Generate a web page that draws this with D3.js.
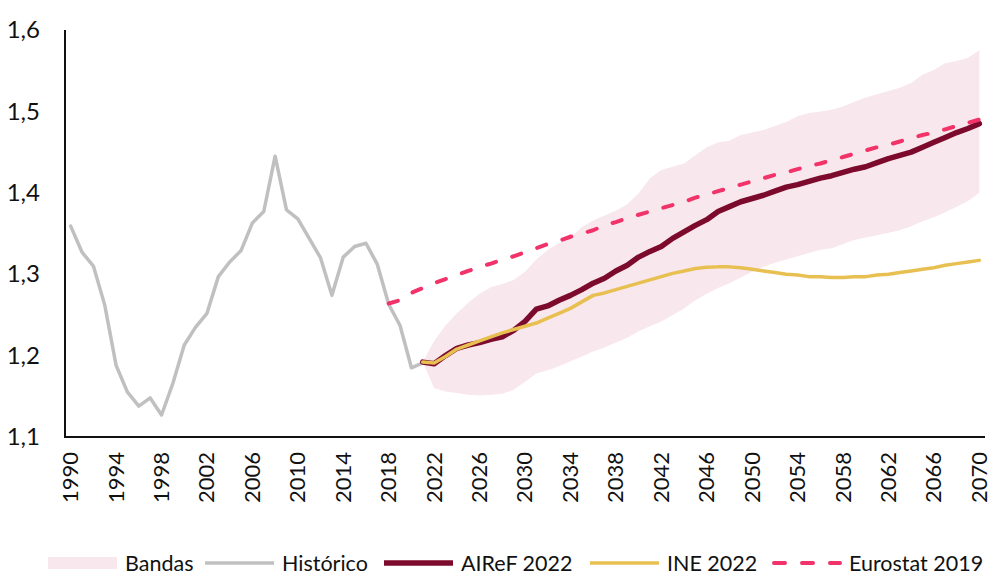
<!DOCTYPE html>
<html>
<head>
<meta charset="utf-8">
<script src="https://cdn.jsdelivr.net/npm/d3@7"></script>
<style>
	html,body{margin:0;padding:0;background:#fff;}
	svg{display:block;font-family:Lato,"Open Sans",sans-serif;}
</style>
</head>
<body>
<div id="container"></div>
<script>
//years 1990-2070, labels every 4 years
var years = d3.range(1990,2071);
var tickYears = d3.range(1990,2071,4);
var yTicks = [1.1,1.2,1.3,1.4,1.5,1.6];

//historico 1990-2021
var histYears = d3.range(1990,2022);
var historico = [1.359,1.327,1.310,1.262,1.188,1.155,1.138,1.148,1.127,1.166,
	1.213,1.235,1.252,1.297,1.315,1.329,1.363,1.377,1.445,1.379,
	1.368,1.344,1.320,1.274,1.321,1.334,1.338,1.312,1.263,1.237,
	1.185,1.191];

//projections 2021-2070
var projYears = d3.range(2021,2071);
var airef = [1.192,1.190,1.200,1.209,1.213,1.216,1.220,1.223,1.231,1.242,
	1.257,1.261,1.268,1.274,1.281,1.289,1.295,1.304,1.311,1.321,
	1.328,1.334,1.344,1.352,1.360,1.367,1.377,1.383,1.389,1.393,
	1.397,1.402,1.407,1.410,1.414,1.418,1.421,1.425,1.429,1.432,
	1.437,1.442,1.446,1.450,1.456,1.462,1.468,1.474,1.479,1.485];
var ine = [1.192,1.191,1.199,1.208,1.213,1.218,1.223,1.228,1.232,1.236,
	1.240,1.246,1.252,1.258,1.266,1.274,1.277,1.281,1.285,1.289,
	1.293,1.297,1.301,1.304,1.307,1.3085,1.309,1.309,1.308,1.306,
	1.304,1.302,1.300,1.299,1.297,1.297,1.296,1.296,1.297,1.297,
	1.299,1.300,1.302,1.304,1.306,1.308,1.311,1.313,1.315,1.317];
var bandUpper = [1.192,1.218,1.237,1.252,1.265,1.276,1.284,1.288,1.293,1.303,
	1.318,1.330,1.338,1.345,1.358,1.366,1.372,1.378,1.386,1.399,
	1.418,1.428,1.432,1.436,1.446,1.456,1.462,1.464,1.471,1.474,
	1.477,1.482,1.487,1.494,1.498,1.500,1.502,1.506,1.512,1.517,
	1.521,1.525,1.529,1.535,1.545,1.551,1.559,1.562,1.566,1.575];
var bandLower = [1.192,1.160,1.156,1.154,1.152,1.151,1.152,1.153,1.158,1.168,
	1.178,1.182,1.187,1.193,1.199,1.205,1.210,1.216,1.222,1.230,
	1.236,1.242,1.250,1.258,1.268,1.276,1.283,1.289,1.296,1.303,
	1.309,1.314,1.318,1.322,1.326,1.330,1.332,1.337,1.342,1.345,
	1.348,1.351,1.354,1.359,1.365,1.370,1.376,1.383,1.390,1.400];

//eurostat 2018-2070
var euroYears = d3.range(2018,2071);
var eurostat = [1.264,1.268,1.277,1.283,1.289,1.294,1.299,1.304,1.309,1.313,
	1.318,1.322,1.327,1.332,1.337,1.341,1.346,1.350,1.354,1.360,
	1.364,1.369,1.373,1.377,1.381,1.385,1.389,1.394,1.398,1.402,
	1.406,1.410,1.414,1.418,1.422,1.425,1.429,1.433,1.436,1.440,
	1.444,1.448,1.452,1.456,1.459,1.463,1.467,1.471,1.474,1.478,
	1.482,1.486,1.490];

var legendItems = [
	{name:'Bandas', type:'area', x:48},
	{name:'Histórico', type:'hist', x:205},
	{name:'AIReF 2022', type:'airef', x:384},
	{name:'INE 2022', type:'ine', x:590},
	{name:'Eurostat 2019', type:'euro', x:772}
];

var colors = {
	area:'#f8e7ec',
	hist:'#c0c0c0',
	airef:'#7c0a2c',
	ine:'#e8c052',
	euro:'#f2336a'
};
var widths = {hist:3.5, airef:5.5, ine:3.5, euro:4};

var w = 991, h = 575;
var plot = {left:65, right:985, top:30, bottom:437};

var svg = d3.select('#container').append('svg')
	.attr('width',w)
	.attr('height',h);

var x = d3.scaleBand()
	.domain(years)
	.range([plot.left,plot.right])
	.padding(0);
var y = d3.scaleLinear()
	.domain([1.1,1.6])
	.range([plot.bottom,plot.top]);

var es = d3.formatLocale({decimal:',', thousands:'.', grouping:[3], currency:['','€']});
var fmt = es.format('.1f');

function cx(yr){ return x(yr) + x.bandwidth()/2; }

//pair years and values
function zip(ys,vs){
	return ys.map(function(yr,i){ return {year:yr, v:vs[i]}; });
}

//band
var bandData = projYears.map(function(yr,i){
	return {year:yr, lo:bandLower[i], hi:bandUpper[i]};
});
var area = d3.area()
	.x(function(d){ return cx(d.year); })
	.y0(function(d){ return y(d.lo); })
	.y1(function(d){ return y(d.hi); });
svg.append('path')
	.datum(bandData)
	.attr('d',area)
	.style('fill',colors.area);

var line = d3.line()
	.x(function(d){ return cx(d.year); })
	.y(function(d){ return y(d.v); });

var series = [
	{key:'hist', data:zip(histYears,historico)},
	{key:'airef', data:zip(projYears,airef)},
	{key:'ine', data:zip(projYears,ine)},
	{key:'euro', data:zip(euroYears,eurostat)}
];
svg.selectAll('path.series')
	.data(series)
	.enter().append('path')
	.classed('series',true)
	.attr('d',function(d){ return line(d.data); })
	.style('fill','none')
	.style('stroke',function(d){ return colors[d.key]; })
	.style('stroke-width',function(d){ return widths[d.key]; })
	.style('stroke-linejoin','round')
	.style('stroke-linecap','round')
	.style('stroke-dasharray',function(d){ return d.key==='euro' ? '9.5,17' : null; });

//axes
var yAxis = d3.axisLeft(y)
	.tickValues(yTicks)
	.tickFormat(fmt)
	.tickSize(0)
	.tickPadding(25);
var yG = svg.append('g')
	.attr('transform','translate(' +plot.left +',0)')
	.call(yAxis);
yG.select('.domain').remove();
yG.selectAll('text')
	.style('font-size','24px')
	.style('fill','#111')
	.style('font-family','Lato,sans-serif');

var xAxis = d3.axisBottom(x)
	.tickValues(tickYears)
	.tickSize(0);
var xG = svg.append('g')
	.attr('transform','translate(0,' +plot.bottom +')')
	.call(xAxis);
xG.select('.domain').remove();
xG.selectAll('text')
	.attr('transform','translate(0,15)rotate(-90)')
	.attr('x',0)
	.attr('y',0)
	.attr('dy','0.34em')
	.style('text-anchor','end')
	.style('font-size','22px')
	.style('fill','#111')
	.style('font-family','Lato,sans-serif');

//axis lines
svg.append('line')
	.attr('x1',plot.left).attr('x2',plot.left)
	.attr('y1',plot.top).attr('y2',plot.bottom)
	.style('stroke','#111').style('stroke-width',2);
svg.append('line')
	.attr('x1',plot.left-1).attr('x2',plot.right)
	.attr('y1',plot.bottom).attr('y2',plot.bottom)
	.style('stroke','#111').style('stroke-width',2);

//legend
var ly = 563;
var leg = svg.selectAll('g.leg')
	.data(legendItems)
	.enter().append('g')
	.classed('leg',true)
	.attr('transform',function(d){ return 'translate(' +d.x +',' +ly +')'; });
leg.each(function(d){
	var g = d3.select(this);
	if(d.type==='area'){
		g.append('rect')
			.attr('x',0).attr('y',-6)
			.attr('width',69).attr('height',12)
			.style('fill',colors.area);
	} else {
		g.append('line')
			.attr('x1',d.type==='euro'?2:0).attr('x2',d.type==='euro'?68:69)
			.attr('y1',0).attr('y2',0)
			.style('stroke',colors[d.type])
			.style('stroke-width',widths[d.type])
			.style('stroke-linecap',d.type==='euro'?'round':'butt')
			.style('stroke-dasharray',d.type==='euro'?'11,17':null);
	}
	g.append('text')
		.attr('x',77)
		.attr('y',0)
		.attr('dy','0.35em')
		.style('font-size','21.5px')
		.style('fill','#111')
		.text(d.name);
});
</script>
</body>
</html>
